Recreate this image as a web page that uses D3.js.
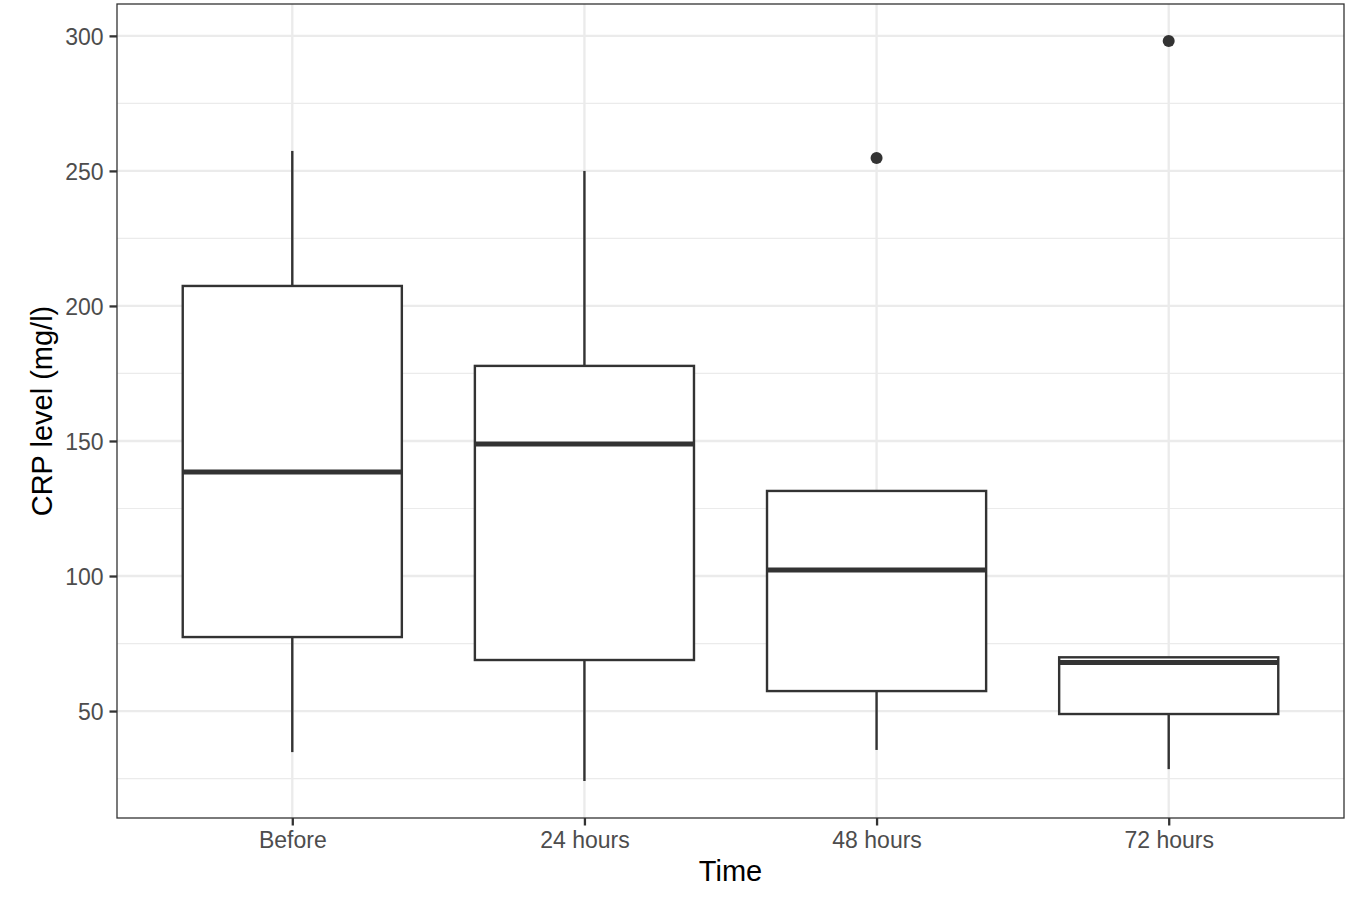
<!DOCTYPE html>
<html><head><meta charset="utf-8">
<script src="https://cdn.jsdelivr.net/npm/d3@7"></script>
<style>body{margin:0;background:#fff}svg{display:block}text{font-family:"Liberation Sans",Arial,sans-serif}</style>
</head><body><svg id="c" width="1361" height="924"></svg>
<script>
const categories = ["Before","24 hours","48 hours","72 hours"];
const whiskerLow = [34.8, 24.1, 35.6, 28.5];
const q1 = [77.4, 68.9, 57.4, 48.9];
const median = [138.5, 148.9, 102.2, 68.0];
const q3 = [207.4, 177.8, 131.5, 69.9];
const whiskerHigh = [257.4, 250.0, 131.5, 69.9];
const outliers = [[], [], [254.8], [298.1]];
const yTicks = [50, 100, 150, 200, 250, 300];
const yMinor = [25, 75, 125, 175, 225, 275];

const svg = d3.select("#c");
const L = 117, R = 1344, T = 4, B = 818;
const x = d3.scalePoint().domain(categories).range([L, R]).padding(0.6);
const allVals = whiskerLow.concat(whiskerHigh, outliers.flat());
const lo = d3.min(allVals), hi = d3.max(allVals), ex = (hi - lo) * 0.05;
const y = d3.scaleLinear().domain([lo - ex, hi + ex]).range([B, T]);
const step = x.step();
const bw = step * 0.75;
const col = "#333333";

svg.append("rect").attr("x", L).attr("y", T).attr("width", R - L).attr("height", B - T).attr("fill", "#fff");
const g = svg.append("g");
g.selectAll(".ymin").data(yMinor).join("line").attr("x1", L).attr("x2", R)
  .attr("y1", d => y(d)).attr("y2", d => y(d)).attr("stroke", "#ebebeb").attr("stroke-width", 1.2);
g.selectAll(".ymaj").data(yTicks).join("line").attr("x1", L).attr("x2", R)
  .attr("y1", d => y(d)).attr("y2", d => y(d)).attr("stroke", "#ebebeb").attr("stroke-width", 2.3);
g.selectAll(".xmaj").data(categories).join("line").attr("y1", T).attr("y2", B)
  .attr("x1", d => x(d)).attr("x2", d => x(d)).attr("stroke", "#ebebeb").attr("stroke-width", 2.3);

const boxes = svg.append("g").selectAll("g").data(categories).join("g");
boxes.append("line").attr("x1", d => x(d)).attr("x2", d => x(d))
  .attr("y1", (d, i) => y(q3[i])).attr("y2", (d, i) => y(whiskerHigh[i])).attr("stroke", col).attr("stroke-width", 2.4);
boxes.append("line").attr("x1", d => x(d)).attr("x2", d => x(d))
  .attr("y1", (d, i) => y(q1[i])).attr("y2", (d, i) => y(whiskerLow[i])).attr("stroke", col).attr("stroke-width", 2.4);
boxes.append("rect").attr("x", d => x(d) - bw / 2).attr("width", bw)
  .attr("y", (d, i) => y(q3[i])).attr("height", (d, i) => y(q1[i]) - y(q3[i]))
  .attr("fill", "#fff").attr("stroke", col).attr("stroke-width", 2.4);
boxes.append("line").attr("x1", d => x(d) - bw / 2).attr("x2", d => x(d) + bw / 2)
  .attr("y1", (d, i) => y(median[i])).attr("y2", (d, i) => y(median[i])).attr("stroke", col).attr("stroke-width", 5);
boxes.each(function (d, i) {
  d3.select(this).selectAll("circle").data(outliers[i]).join("circle")
    .attr("cx", x(d)).attr("cy", v => y(v)).attr("r", 6).attr("fill", col);
});

svg.append("rect").attr("x", L).attr("y", T).attr("width", R - L).attr("height", B - T)
  .attr("fill", "none").attr("stroke", col).attr("stroke-width", 1.3);

const ya = svg.append("g").attr("transform", `translate(${L},0)`)
  .call(d3.axisLeft(y).tickValues(yTicks).tickSize(7.5).tickPadding(6).tickFormat(d3.format("d")));
ya.select(".domain").remove();
ya.selectAll("line").attr("stroke", col).attr("stroke-width", 2.3);
ya.selectAll("text").attr("fill", "#4d4d4d").attr("font-size", 23).attr("dy", "0.36em");

const xa = svg.append("g").attr("transform", `translate(0,${B})`)
  .call(d3.axisBottom(x).tickSize(7.5).tickPadding(6));
xa.select(".domain").remove();
xa.selectAll("line").attr("stroke", col).attr("stroke-width", 2.3);
xa.selectAll("text").attr("fill", "#4d4d4d").attr("font-size", 23).attr("dy", "0.71em");

svg.append("text").attr("x", (L + R) / 2).attr("y", 881).attr("text-anchor", "middle")
  .attr("font-size", 29).attr("fill", "#000").text("Time");
svg.append("text").attr("transform", `translate(52,${(T + B) / 2}) rotate(-90)`).attr("text-anchor", "middle")
  .attr("font-size", 29).attr("fill", "#000").text("CRP level (mg/l)");
</script></body></html>
